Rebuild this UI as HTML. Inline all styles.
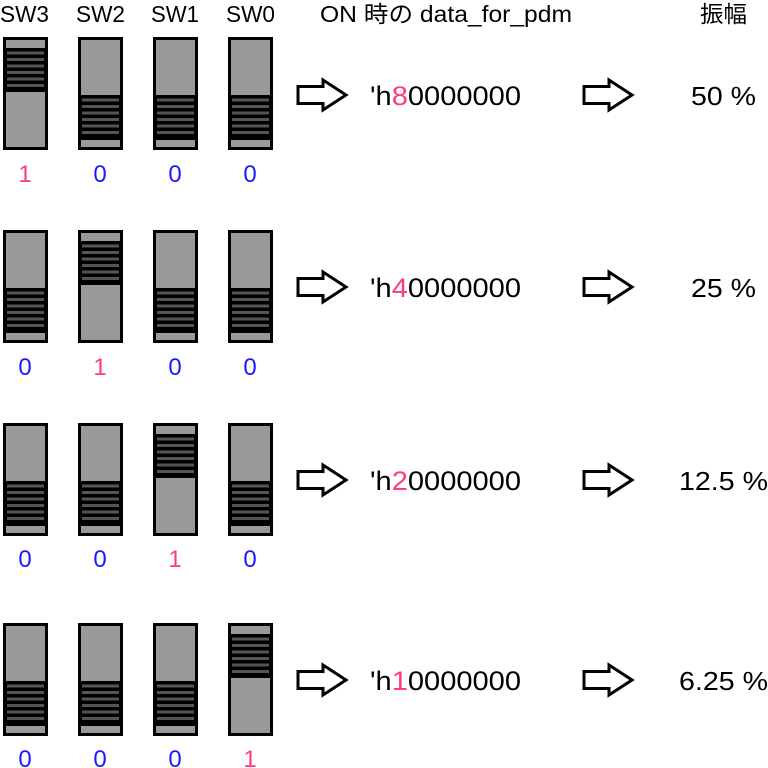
<!DOCTYPE html>
<html><head><meta charset="utf-8"><style>body{margin:0;background:#fff}svg{display:block}</style></head><body>
<svg width="768" height="768" viewBox="0 0 768 768" xmlns="http://www.w3.org/2000/svg" font-family="Liberation Sans, Noto Sans CJK JP, sans-serif">
<defs>
<g id="on">
<rect x="1.5" y="1.5" width="42" height="110" fill="#999" stroke="#000" stroke-width="3"/>
<rect x="0" y="11" width="45" height="44" fill="#000"/>
<g fill="#555"><rect x="4" y="14.5" width="37" height="3"/><rect x="4" y="21" width="37" height="3"/><rect x="4" y="27.5" width="37" height="3"/><rect x="4" y="34" width="37" height="3"/><rect x="4" y="40.5" width="37" height="3"/><rect x="4" y="47" width="37" height="3"/></g>
</g>
<g id="off">
<rect x="1.5" y="1.5" width="42" height="110" fill="#999" stroke="#000" stroke-width="3"/>
<rect x="0" y="58" width="45" height="45" fill="#000"/>
<g fill="#555"><rect x="4" y="61.5" width="37" height="3"/><rect x="4" y="68" width="37" height="3"/><rect x="4" y="74.5" width="37" height="3"/><rect x="4" y="81" width="37" height="3"/><rect x="4" y="87.5" width="37" height="3"/><rect x="4" y="94" width="37" height="3"/></g>
</g>
<polygon id="arr" points="0,-8.5 25,-8.5 25,-15 48,0 25,15 25,8.5 0,8.5" fill="#fff" stroke="#000" stroke-width="3" stroke-linejoin="miter"/>
</defs>
<g font-size="23" fill="#000">
<text x="0" y="22" textLength="49" lengthAdjust="spacingAndGlyphs">SW3</text>
<text x="76" y="22" textLength="49" lengthAdjust="spacingAndGlyphs">SW2</text>
<text x="151" y="22" textLength="48" lengthAdjust="spacingAndGlyphs">SW1</text>
<text x="226" y="22" textLength="49" lengthAdjust="spacingAndGlyphs">SW0</text>
<text x="320" y="22" textLength="252" lengthAdjust="spacingAndGlyphs">ON 時の data_for_pdm</text>
<text x="700" y="22" textLength="47" lengthAdjust="spacingAndGlyphs">振幅</text>
</g>
<use href="#on" x="3" y="37"/><use href="#off" x="78" y="37"/><use href="#off" x="153" y="37"/><use href="#off" x="228" y="37"/>
<use href="#off" x="3" y="230"/><use href="#on" x="78" y="230"/><use href="#off" x="153" y="230"/><use href="#off" x="228" y="230"/>
<use href="#off" x="3" y="423"/><use href="#off" x="78" y="423"/><use href="#on" x="153" y="423"/><use href="#off" x="228" y="423"/>
<use href="#off" x="3" y="623"/><use href="#off" x="78" y="623"/><use href="#off" x="153" y="623"/><use href="#on" x="228" y="623"/>
<g font-size="24" text-anchor="middle">
<text x="25" y="182" fill="#ff3b7f">1</text><text x="100" y="182" fill="#1a1aff">0</text><text x="175" y="182" fill="#1a1aff">0</text><text x="250" y="182" fill="#1a1aff">0</text>
<text x="25" y="375" fill="#1a1aff">0</text><text x="100" y="375" fill="#ff3b7f">1</text><text x="175" y="375" fill="#1a1aff">0</text><text x="250" y="375" fill="#1a1aff">0</text>
<text x="25" y="567" fill="#1a1aff">0</text><text x="100" y="567" fill="#1a1aff">0</text><text x="175" y="567" fill="#ff3b7f">1</text><text x="250" y="567" fill="#1a1aff">0</text>
<text x="25" y="767" fill="#1a1aff">0</text><text x="100" y="767" fill="#1a1aff">0</text><text x="175" y="767" fill="#1a1aff">0</text><text x="250" y="767" fill="#ff3b7f">1</text>
</g>
<use href="#arr" x="298" y="95"/><use href="#arr" x="584" y="95"/>
<use href="#arr" x="298" y="287"/><use href="#arr" x="584" y="287"/>
<use href="#arr" x="298" y="480"/><use href="#arr" x="584" y="480"/>
<use href="#arr" x="298" y="680"/><use href="#arr" x="584" y="680"/>
<g font-size="27" fill="#000">
<text x="370" y="105" textLength="151" lengthAdjust="spacingAndGlyphs">'h<tspan fill="#ff3b7f">8</tspan>0000000</text>
<text x="370" y="297" textLength="151" lengthAdjust="spacingAndGlyphs">'h<tspan fill="#ff3b7f">4</tspan>0000000</text>
<text x="370" y="490" textLength="151" lengthAdjust="spacingAndGlyphs">'h<tspan fill="#ff3b7f">2</tspan>0000000</text>
<text x="370" y="690" textLength="151" lengthAdjust="spacingAndGlyphs">'h<tspan fill="#ff3b7f">1</tspan>0000000</text>
</g>
<g font-size="26" fill="#000">
<text x="691" y="105" textLength="65" lengthAdjust="spacingAndGlyphs">50 %</text>
<text x="691" y="297" textLength="65" lengthAdjust="spacingAndGlyphs">25 %</text>
<text x="679" y="490" textLength="89" lengthAdjust="spacingAndGlyphs">12.5 %</text>
<text x="679" y="690" textLength="89" lengthAdjust="spacingAndGlyphs">6.25 %</text>
</g>
</svg>
</body></html>
